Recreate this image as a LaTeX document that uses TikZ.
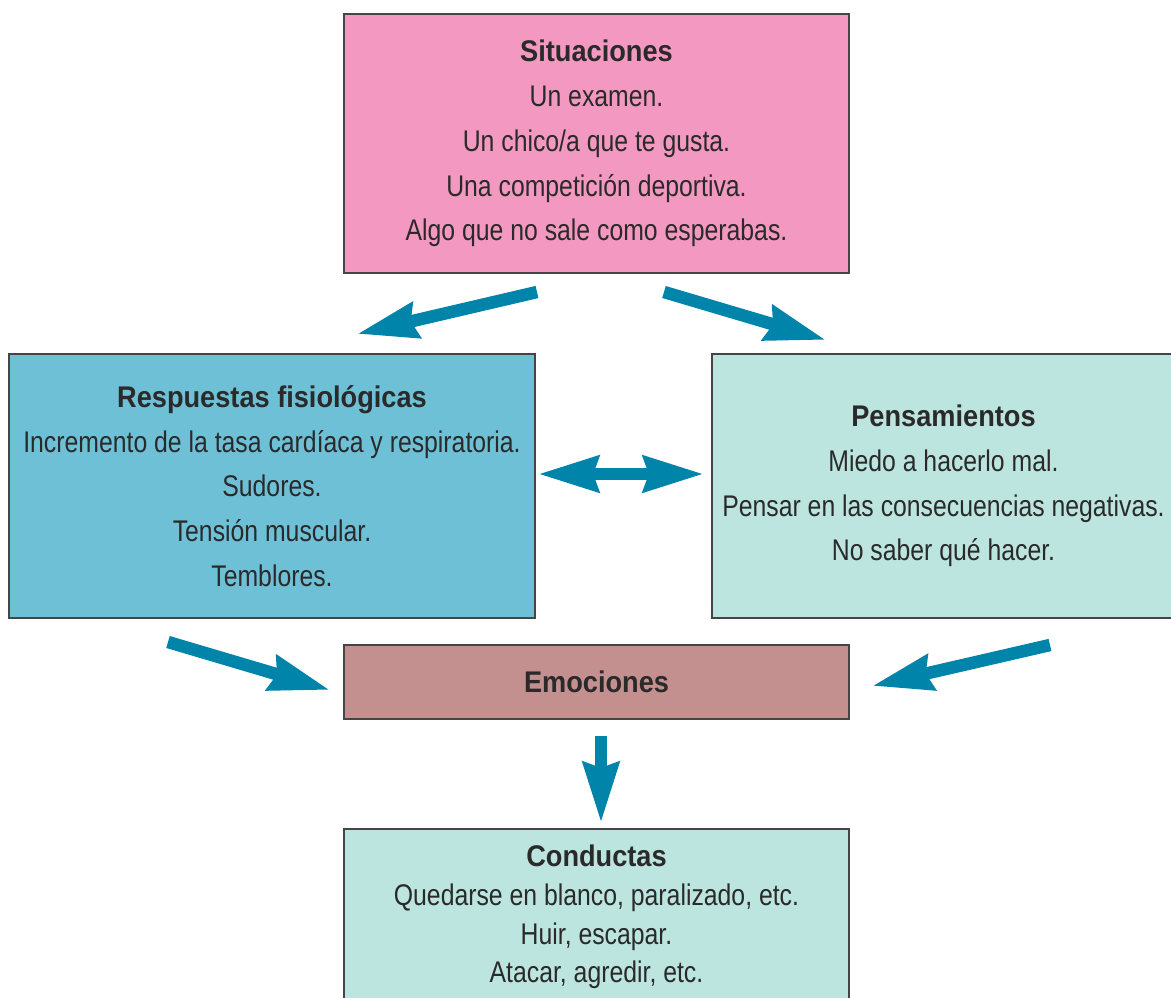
\documentclass[tikz,border=0pt]{standalone}
\usepackage{fontspec}
\setmainfont{Liberation Sans}[FakeStretch=0.83, BoldFeatures={FakeStretch=0.91}]
\usetikzlibrary{arrows.meta}
\definecolor{sitpink}{HTML}{F398C0}
\definecolor{respblue}{HTML}{6EC0D6}
\definecolor{penteal}{HTML}{BCE5E0}
\definecolor{emorose}{HTML}{C48F8F}
\definecolor{arrblue}{HTML}{0084AA}
\definecolor{edgegray}{HTML}{454545}
\definecolor{txtgray}{HTML}{2A2A2A}
\tikzset{
  boxnode/.style={draw=edgegray, line width=0.04cm, align=center, inner sep=0pt,
    text=txtgray, font=\fontsize{17}{25.5}\selectfont},
  bigarrow/.style={draw=arrblue, line width=0.25cm,
    -{Stealth[length=1.2cm, width=0.7cm, inset=0.1cm]}},
  dblarrow/.style={draw=arrblue, line width=0.25cm,
    {Stealth[length=1.2cm, width=0.7cm, inset=0.1cm]}-{Stealth[length=1.2cm, width=0.7cm, inset=0.1cm]}},
}
\begin{document}
\begin{tikzpicture}[x=0.02cm, y=-0.02cm]
\useasboundingbox (0,0) rectangle (1171,998);
\node[boxnode, fill=sitpink, minimum width=10.1cm, minimum height=5.18cm] (sit) at (596.5,143.5)
  {\textbf{Situaciones}\\Un examen.\\Un chico/a que te gusta.\\Una competición deportiva.\\Algo que no sale como esperabas.};
\node[boxnode, fill=respblue, minimum width=10.52cm, minimum height=5.28cm] (resp) at (272,486)
  {\textbf{Respuestas fisiológicas}\\Incremento de la tasa cardíaca y respiratoria.\\Sudores.\\Tensión muscular.\\Temblores.};
\node[boxnode, fill=penteal, minimum width=9.26cm, minimum height=5.28cm] (pens) at (943.5,486)
  {\textbf{Pensamientos}\\Miedo a hacerlo mal.\\Pensar en las consecuencias negativas.\\No saber qué hacer.};
\node[boxnode, fill=emorose, minimum width=10.1cm, minimum height=1.48cm] (emo) at (596.5,682)
  {\textbf{Emociones}};
\node[boxnode, fill=penteal, minimum width=10.1cm, minimum height=3.52cm,
  font=\fontsize{17}{22}\selectfont] (cond) at (596.5,917)
  {\textbf{Conductas}\\Quedarse en blanco, paralizado, etc.\\Huir, escapar.\\Atacar, agredir, etc.};
\coordinate (a1s) at (537,292); \coordinate (a1e) at (357,334);
\coordinate (a2s) at (664,292); \coordinate (a2e) at (826,340);
\coordinate (a3s) at (168,642); \coordinate (a3e) at (330,690);
\coordinate (a4s) at (1050,645); \coordinate (a4e) at (872,686);
\coordinate (a5s) at (601,736); \coordinate (a5e) at (601,823);
\coordinate (a6s) at (538,474); \coordinate (a6e) at (704,474);
\draw[bigarrow] (a1s) -- (a1e);
\draw[bigarrow] (a2s) -- (a2e);
\draw[bigarrow] (a3s) -- (a3e);
\draw[bigarrow] (a4s) -- (a4e);
\draw[bigarrow] (a5s) -- (a5e);
\draw[dblarrow] (a6s) -- (a6e);
\end{tikzpicture}
\end{document}
